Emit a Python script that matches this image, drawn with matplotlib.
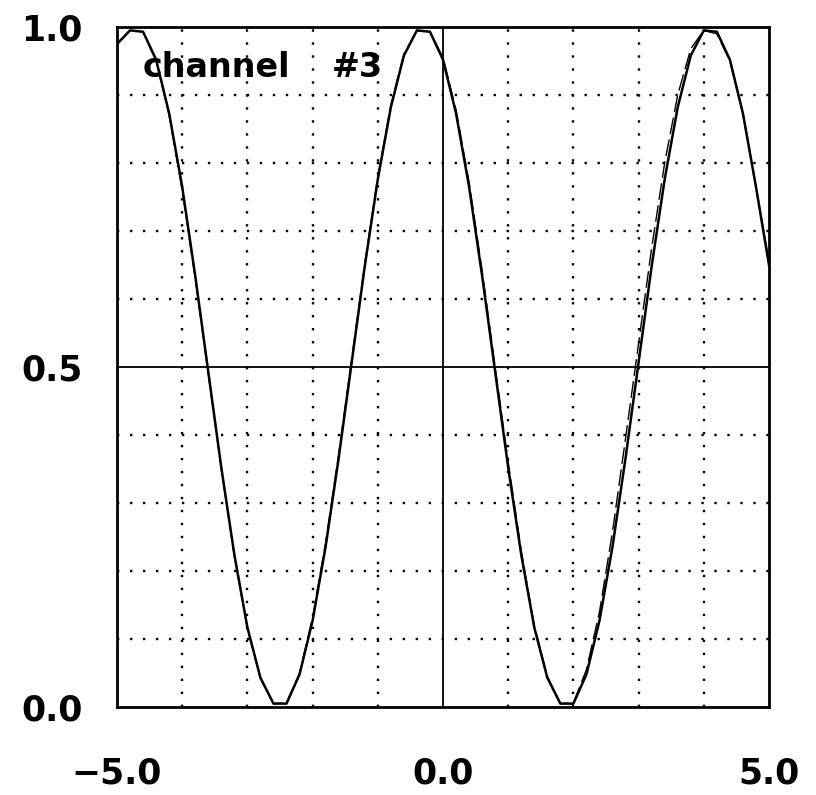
import matplotlib.pyplot as plt

# muestras (canal 3)
x_vals = [-5.0, -4.8, -4.6, -4.4, -4.2, -4.0, -3.8, -3.6, -3.4, -3.2,
          -3.0, -2.8, -2.6, -2.4, -2.2, -2.0, -1.8, -1.6, -1.4, -1.2,
          -1.0, -0.8, -0.6, -0.4, -0.2, 0.0, 0.2, 0.4, 0.6, 0.8,
          1.0, 1.2, 1.4, 1.6, 1.8, 2.0, 2.2, 2.4, 2.6, 2.8,
          3.0, 3.2, 3.4, 3.6, 3.8, 4.0, 4.2, 4.4, 4.6, 4.8, 5.0]

medido = [0.975, 0.995, 0.993, 0.952, 0.873, 0.765, 0.634, 0.493, 0.352, 0.224,
          0.117, 0.043, 0.005, 0.005, 0.048, 0.127, 0.236, 0.366, 0.507, 0.648,
          0.776, 0.882, 0.958, 0.995, 0.993, 0.952, 0.873, 0.765, 0.634, 0.493,
          0.352, 0.224, 0.117, 0.043, 0.005, 0.005, 0.048, 0.127, 0.236, 0.366,
          0.507, 0.648, 0.776, 0.882, 0.958, 0.995, 0.993, 0.952, 0.873, 0.765, 0.650]

teorico = [0.975, 0.995, 0.993, 0.950, 0.870, 0.760, 0.630, 0.490, 0.350, 0.222,
           0.115, 0.042, 0.005, 0.006, 0.050, 0.132, 0.242, 0.372, 0.512, 0.652,
           0.780, 0.885, 0.960, 0.995, 0.993, 0.955, 0.878, 0.772, 0.642, 0.500,
           0.360, 0.230, 0.120, 0.045, 0.005, 0.006, 0.055, 0.140, 0.258, 0.395,
           0.535, 0.675, 0.800, 0.900, 0.968, 0.995, 0.990, 0.950, 0.872, 0.765, 0.655]

x_ticks = [-5.0, 0.0, 5.0]
x_ticklabels = ["\u22125.0", "0.0", "5.0"]
y_ticks = [0.0, 0.5, 1.0]
y_ticklabels = ["0.0", "0.5", "1.0"]

fig = plt.figure(figsize=(8.16, 7.95), dpi=100)
ax = fig.add_axes([117 / 816, 88 / 795, 652 / 816, 680 / 795])

# grilla punteada
punteado = (0, (1, 4.5))
for gx in range(-4, 5):
    if gx != 0:
        ax.axvline(gx, color="black", lw=1.7, linestyle=punteado, zorder=1)
for i in range(1, 10):
    if i != 5:
        ax.axhline(i / 10, color="black", lw=1.7, linestyle=punteado, zorder=1)
ax.axvline(0, color="black", lw=1.3, zorder=1)
ax.axhline(0.5, color="black", lw=1.3, zorder=1)

ax.plot(x_vals, teorico, color="black", lw=1.0, linestyle=(0, (12, 4)), zorder=2)
ax.plot(x_vals, medido, color="black", lw=1.8, zorder=3)

ax.set_xlim(-5, 5)
ax.set_ylim(0, 1)
ax.set_xticks(x_ticks)
ax.set_xticklabels(x_ticklabels)
ax.set_yticks(y_ticks)
ax.set_yticklabels(y_ticklabels)
ax.tick_params(length=0, labelsize=25)
ax.tick_params(axis="x", pad=36)
ax.tick_params(axis="y", pad=25)
for lab in ax.get_xticklabels() + ax.get_yticklabels():
    lab.set_fontweight("bold")

for sp in ax.spines.values():
    sp.set_linewidth(2.0)

ax.text(-4.6, 0.926, "channel", fontsize=24, fontweight="bold", va="baseline")
ax.text(-1.70, 0.926, "#3", fontsize=24, fontweight="bold", va="baseline")

fig.savefig("out.png", dpi=100)
